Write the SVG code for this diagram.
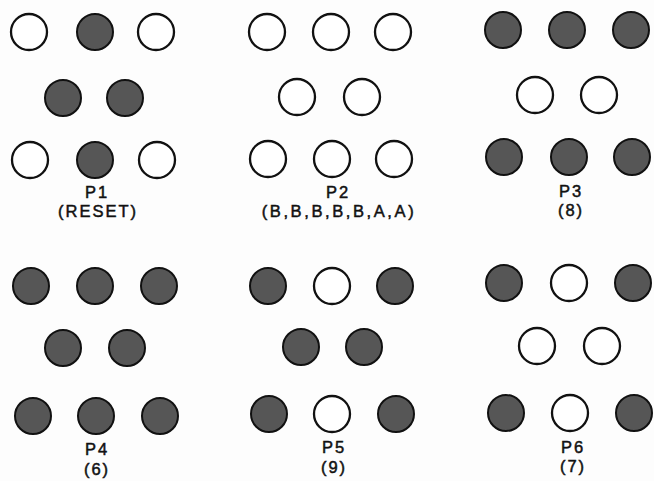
<svg xmlns="http://www.w3.org/2000/svg" width="654" height="481" viewBox="0 0 654 481">
<style>
.on{fill:#565656;stroke:#111;stroke-width:2}
.off{fill:#fff;stroke:#111;stroke-width:2.3}
text{font-family:"Liberation Sans","DejaVu Sans",sans-serif;font-size:16.5px;fill:#111;stroke:#111;stroke-width:0.5;text-anchor:middle;letter-spacing:2px}
</style>
<rect width="654" height="481" fill="#fdfdfd"/>
<g id="P1">
<circle class="off" cx="29" cy="32" r="18"/><circle class="on" cx="95" cy="32" r="18"/><circle class="off" cx="156" cy="32" r="18"/>
<circle class="on" cx="63" cy="98" r="18"/><circle class="on" cx="125" cy="98" r="18"/>
<circle class="off" cx="30" cy="160" r="18"/><circle class="on" cx="95" cy="160" r="18"/><circle class="off" cx="157" cy="160" r="18"/>
<text x="97" y="198">P1</text><text x="98" y="217">(RESET)</text>
</g>
<g id="P2">
<circle class="off" cx="267" cy="32" r="18"/><circle class="off" cx="331" cy="32" r="18"/><circle class="off" cx="393" cy="32" r="18"/>
<circle class="off" cx="297" cy="97" r="18"/><circle class="off" cx="362" cy="97" r="18"/>
<circle class="off" cx="268" cy="159" r="18"/><circle class="off" cx="332" cy="159" r="18"/><circle class="off" cx="394" cy="159" r="18"/>
<text x="338" y="198">P2</text><text x="339" y="217" style="letter-spacing:2.6px">(B,B,B,B,B,A,A)</text>
</g>
<g id="P3">
<circle class="on" cx="503" cy="30" r="18"/><circle class="on" cx="567" cy="30" r="18"/><circle class="on" cx="631" cy="30" r="18"/>
<circle class="off" cx="535" cy="95" r="18"/><circle class="off" cx="599" cy="95" r="18"/>
<circle class="on" cx="504" cy="157" r="18"/><circle class="on" cx="569" cy="157" r="18"/><circle class="on" cx="632" cy="157" r="18"/>
<text x="571" y="197">P3</text><text x="571" y="216">(8)</text>
</g>
<g id="P4">
<circle class="on" cx="31" cy="286" r="18"/><circle class="on" cx="95" cy="286" r="18"/><circle class="on" cx="159" cy="286" r="18"/>
<circle class="on" cx="63" cy="348" r="18"/><circle class="on" cx="127" cy="348" r="18"/>
<circle class="on" cx="33" cy="416" r="18"/><circle class="on" cx="96" cy="416" r="18"/><circle class="on" cx="160" cy="416" r="18"/>
<text x="97" y="455">P4</text><text x="97" y="475">(6)</text>
</g>
<g id="P5">
<circle class="on" cx="268" cy="286" r="18"/><circle class="off" cx="332" cy="286" r="18"/><circle class="on" cx="395" cy="286" r="18"/>
<circle class="on" cx="301" cy="347" r="18"/><circle class="on" cx="364" cy="347" r="18"/>
<circle class="on" cx="269" cy="414" r="18"/><circle class="off" cx="332" cy="414" r="18"/><circle class="on" cx="396" cy="414" r="18"/>
<text x="334" y="453">P5</text><text x="334" y="473">(9)</text>
</g>
<g id="P6">
<circle class="on" cx="504" cy="283" r="18"/><circle class="off" cx="569" cy="283" r="18"/><circle class="on" cx="633" cy="283" r="18"/>
<circle class="off" cx="537" cy="346" r="18"/><circle class="off" cx="602" cy="346" r="18"/>
<circle class="on" cx="506" cy="413" r="18"/><circle class="off" cx="570" cy="413" r="18"/><circle class="on" cx="634" cy="413" r="18"/>
<text x="573" y="453">P6</text><text x="573" y="472">(7)</text>
</g>
<g id="connectors"/>
</svg>
